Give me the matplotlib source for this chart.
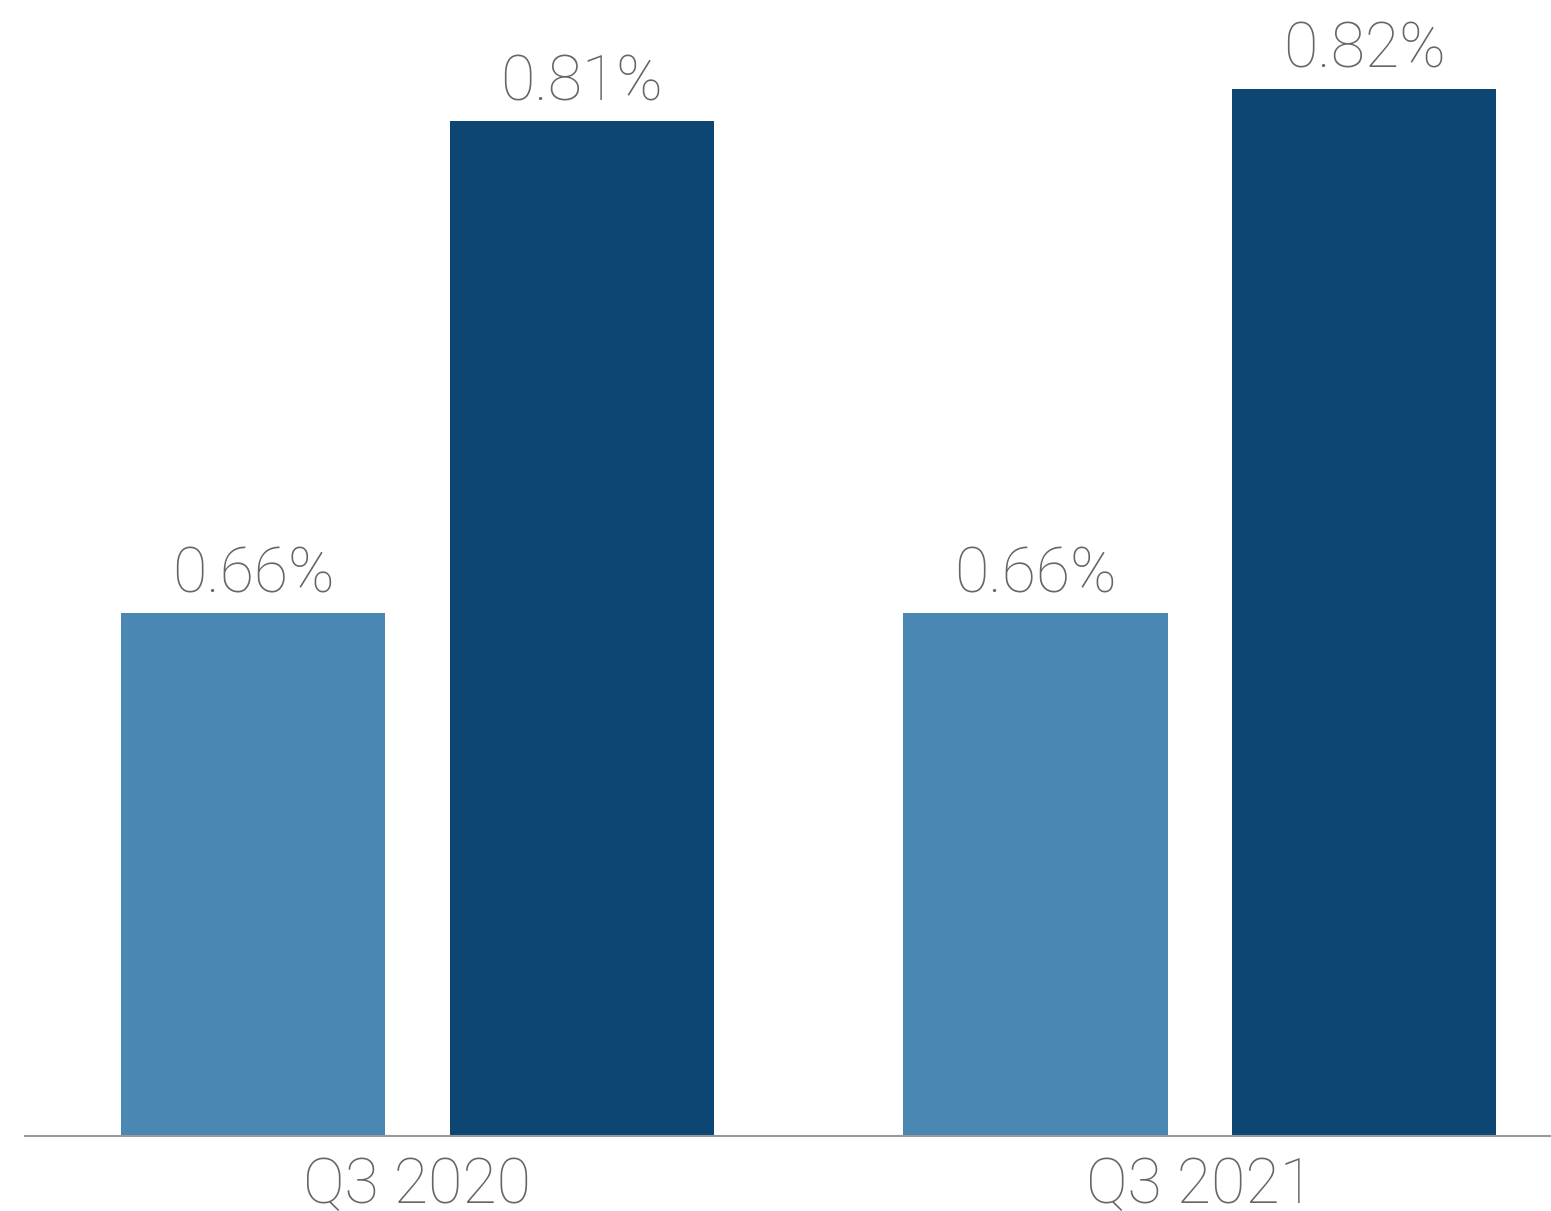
import numpy as np
import matplotlib.pyplot as plt

categories = ['Q3 2020', 'Q3 2021']
series_light = [0.66, 0.66]
series_dark = [0.81, 0.82]
labels_light = ['0.66%', '0.66%']
labels_dark = ['0.81%', '0.82%']

light = '#4A88B3'
dark = '#0D4672'
grey = '#666666'
font = ['Roboto', 'DejaVu Sans']

fig = plt.figure(figsize=(15.51, 12.11), dpi=100)
ax = fig.add_axes([25 / 1551, 75 / 1211, 1526 / 1551, 1136 / 1211])

x = np.arange(len(categories))
w = 0.3374
off = 0.2102
base = 0.5007
b1 = ax.bar(x - off, np.array(series_light) - base, w, bottom=base, color=light)
b2 = ax.bar(x + off, np.array(series_dark) - base, w, bottom=base, color=dark)

for bars, labs in [(b1, labels_light), (b2, labels_dark)]:
    for rect, lab in zip(bars, labs):
        ax.annotate(lab, (rect.get_x() + rect.get_width() / 2, rect.get_y() + rect.get_height()),
                    xytext=(0, 15), textcoords='offset points', ha='center', va='baseline',
                    fontsize=45, color=grey, family=font, fontweight='light')

ax.set_xlim(-0.5016, 1.4486)
ax.set_ylim(base, base + 1136 / 3280)
ax.set_xticks(x)
ax.set_xticklabels(categories, fontsize=45, color=grey, family=font, fontweight='light')
ax.tick_params(axis='x', length=0, pad=14)
ax.set_yticks([])
for s in ['top', 'left', 'right']:
    ax.spines[s].set_visible(False)
ax.spines['bottom'].set_color('#999999')
ax.spines['bottom'].set_linewidth(1.5)

fig.savefig('out.png', dpi=100)
